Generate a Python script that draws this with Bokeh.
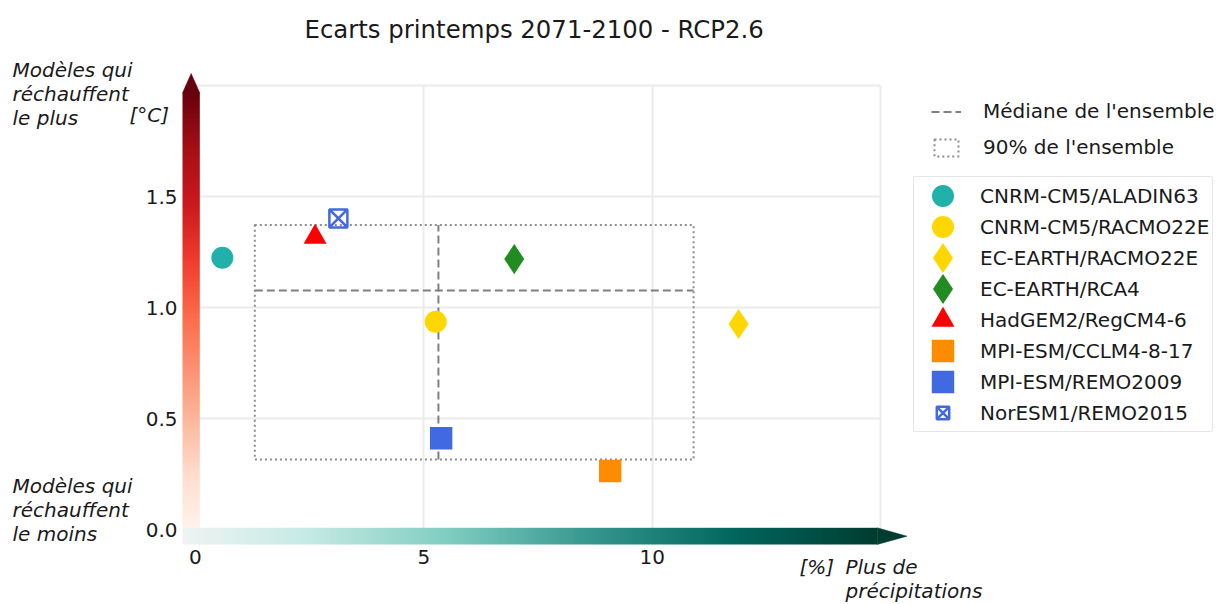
import numpy as np
from bokeh.plotting import figure
from bokeh.models import (Range1d, FixedTicker, LinearColorMapper, Legend,
                          LegendItem, Label, LinearAxis, Grid)
from bokeh.embed import file_html
from bokeh.resources import INLINE

# ---------------- data ----------------
models = ["CNRM-CM5/ALADIN63", "CNRM-CM5/RACMO22E", "EC-EARTH/RACMO22E",
          "EC-EARTH/RCA4", "HadGEM2/RegCM4-6", "MPI-ESM/CCLM4-8-17",
          "MPI-ESM/REMO2009", "NorESM1/REMO2015"]
precip_change = [0.59, 5.26, 11.89, 6.98, 2.62, 9.08, 5.38, 3.13]   # [%]
temp_change = [1.225, 0.937, 0.927, 1.219, 1.318, 0.266, 0.413, 1.402]  # [°C]

x_ticks = [0, 5, 10]
x_tick_labels = ["0", "5", "10"]
y_ticks = [0.0, 0.5, 1.0, 1.5]
y_tick_labels = ["0.0", "0.5", "1.0", "1.5"]

title_text = "Ecarts printemps 2071-2100 - RCP2.6"

# ---------------- styles ----------------
colors = ["#20b2aa", "#ffd700", "#ffd700", "#228b22", "#ff0000",
          "#ff8c00", "#4169e1", "#4169e1"]
markers = ["circle", "circle", "diamond", "diamond", "triangle",
           "square", "square", "square_x"]
# marker core size + same-colour outline (so that legend icons match)
core_sizes = [12.4, 12.4, 12.4, 12.4, 12.4, 12.4, 12.4, 18]
outline_widths = [9.6, 9.6, 9.8, 9.8, 6.1, 10, 10, 2.5]

FONT = "DejaVu Sans"
TXT = "#1a1a1a"

W, H = 1220, 604
# pixel calibration of the data area
X0_PX, PX_PER_X = 194.9, 45.68
Y0_PX, PX_PER_Y = 529.6, 222.3
TEXT_DY = -8   # baseline correction for labels


def px_to_x(px):
    return (px - X0_PX) / PX_PER_X


def px_to_y(py):
    return (Y0_PX - py) / PX_PER_Y


def interp_colors(stops, n, t0=0.0, t1=1.0):
    rgb = np.array([[int(s[i:i + 2], 16) for i in (1, 3, 5)] for s in stops], float)
    pos = np.linspace(0, 1, len(stops))
    out = []
    for t in np.linspace(t0, t1, n):
        c = [int(round(np.interp(t, pos, rgb[:, k]))) for k in range(3)]
        out.append("#%02x%02x%02x" % tuple(c))
    return out


reds = interp_colors(['#fff5f0', '#fee0d2', '#fcbba1', '#fc9272', '#fb6a4a',
                      '#ef3b2c', '#cb181d', '#a50f15', '#67000d'], 256, 0.02, 1.0)
greens = interp_colors(['#f5f5f5', '#c7eae5', '#80cdc1', '#35978f',
                        '#01665e', '#003c30'], 256, 0.03, 1.0)

# ---------------- figure (frame = whole canvas) ----------------
p = figure(width=W, height=H, min_border=0, title=None,
           x_range=Range1d(px_to_x(0), px_to_x(W)),
           y_range=Range1d(px_to_y(H), px_to_y(0)),
           x_axis_type=None, y_axis_type=None,
           output_backend="svg", toolbar_location=None)
p.outline_line_color = None
p.background_fill_color = "white"
p.border_fill_color = "white"

# extent of the arrows (axes frame of the reference)
x_lo, y_lo = px_to_x(182), px_to_y(544)
x_tip, y_tip = px_to_x(906.5), px_to_y(73)
red_w = px_to_x(199.3) - x_lo
green_h = px_to_y(527.3) - y_lo
red_bottom = y_lo + green_h
red_top = px_to_y(92.5)
green_right = px_to_x(876.7)

# grid (limited to the data area 0..15 / 0..2)
xgrid = Grid(dimension=0, ticker=FixedTicker(ticks=[5, 10, 15]),
             cross_bounds=(0, 2.0), grid_line_color="#ebebeb", grid_line_width=2)
ygrid = Grid(dimension=1, ticker=FixedTicker(ticks=[0.5, 1.0, 1.5, 2.0]),
             cross_bounds=(x_lo, 15), grid_line_color="#ebebeb", grid_line_width=2)
p.add_layout(xgrid)
p.add_layout(ygrid)

# axes drawn at the edges of the arrows
yaxis = LinearAxis(fixed_location=x_lo, ticker=FixedTicker(ticks=y_ticks),
                   major_label_overrides={t: l for t, l in zip(y_ticks, y_tick_labels)},
                   major_label_standoff=5)
xaxis = LinearAxis(fixed_location=y_lo, ticker=FixedTicker(ticks=x_ticks),
                   major_label_overrides={t: l for t, l in zip(x_ticks, x_tick_labels)},
                   major_label_standoff=5)
for ax in (xaxis, yaxis):
    ax.axis_line_color = None
    ax.major_tick_line_color = None
    ax.minor_tick_line_color = None
    ax.major_tick_out = 0
    ax.major_tick_in = 0
    ax.major_label_text_font = FONT
    ax.major_label_text_font_size = "20px"
    ax.major_label_text_color = TXT
p.add_layout(yaxis, "left")
p.add_layout(xaxis, "below")

# ---------------- gradient arrows ----------------
p.image(image=[np.linspace(0, 1, 256).reshape(256, 1)], x=x_lo, y=red_bottom,
        dw=red_w, dh=red_top - red_bottom,
        color_mapper=LinearColorMapper(palette=reds, low=0, high=1))
p.patch(x=[x_lo, x_lo + red_w, x_lo + red_w / 2], y=[red_top, red_top, y_tip],
        fill_color=reds[-1], line_color=reds[-1], line_width=0.5)

p.image(image=[np.linspace(0, 1, 256).reshape(1, 256)], x=x_lo, y=y_lo,
        dw=green_right - x_lo, dh=green_h,
        color_mapper=LinearColorMapper(palette=greens, low=0, high=1))
p.patch(x=[green_right, green_right, x_tip],
        y=[y_lo + green_h, y_lo, y_lo + green_h / 2],
        fill_color=greens[-1], line_color=greens[-1], line_width=0.5)

# ---------------- ensemble statistics ----------------
xm, ym = np.median(precip_change), np.median(temp_change)
x5, x95 = np.percentile(precip_change, [5, 95])
y5, y95 = np.percentile(temp_change, [5, 95])

box_r = p.quad(left=[x5], right=[x95], bottom=[y5], top=[y95],
               fill_color=None, line_color="#8c8c8c", line_width=2,
               line_dash="2 3")
med_r = p.segment(x0=[x5, xm], y0=[ym, y5], x1=[x95, xm], y1=[ym, y95],
                  line_color="#808080", line_width=2, line_dash="8 4")

# ---------------- models ----------------
model_renderers = []
for name, xv, yv, c, m, s, lw in zip(models, precip_change, temp_change,
                                     colors, markers, core_sizes, outline_widths):
    if m == "square_x":
        r = p.scatter(x=[xv], y=[yv], marker=m, size=s, fill_color=None,
                      line_color=c, line_width=lw)
    else:
        r = p.scatter(x=[xv], y=[yv], marker=m, size=s, fill_color=c,
                      line_color=c, line_width=lw, line_join="miter")
    model_renderers.append(r)

# ---------------- legends ----------------
leg1 = Legend(items=[LegendItem(label="Médiane de l'ensemble", renderers=[med_r]),
                     LegendItem(label="90% de l'ensemble", renderers=[box_r])],
              location=(931, H - 159), glyph_width=30, glyph_height=21,
              label_height=24, spacing=12, padding=0, label_standoff=22,
              border_line_color=None, background_fill_alpha=0,
              label_text_font=FONT, label_text_font_size="20px",
              label_text_color=TXT)
p.add_layout(leg1)

leg2 = Legend(items=[LegendItem(label=n, renderers=[r])
                     for n, r in zip(models, model_renderers)],
              location=(913, H - 432), glyph_width=51, glyph_height=31,
              spacing=0, padding=3, label_standoff=12,
              border_line_color="#cccccc", border_line_width=1.5,
              border_radius=3,
              background_fill_color="white", background_fill_alpha=1,
              label_text_font=FONT, label_text_font_size="20px",
              label_text_color=TXT)
p.add_layout(leg2)

# ---------------- texts ----------------
p.add_layout(Label(x=px_to_x(304), y=px_to_y(37 + TEXT_DY), text=title_text,
                   text_font=FONT, text_font_size="24.4px", text_color=TXT,
                   text_align="left", text_baseline="alphabetic"))

annots = [
    ("Modèles qui", 12, 77), ("réchauffent", 12, 101), ("le plus", 12, 125),
    ("[°C]", 129, 122),
    ("Modèles qui", 12, 493), ("réchauffent", 12, 517), ("le moins", 12, 541),
    ("[%]", 799, 574), ("Plus de", 845, 574), ("précipitations", 845, 598),
]
for txt, ax_, ay_ in annots:
    p.add_layout(Label(x=px_to_x(ax_), y=px_to_y(ay_ + TEXT_DY), text=txt,
                       text_font=FONT, text_font_size="20px",
                       text_font_style="italic", text_color=TXT,
                       text_align="left", text_baseline="alphabetic"))

open("out.html", "w").write(file_html(p, INLINE))
